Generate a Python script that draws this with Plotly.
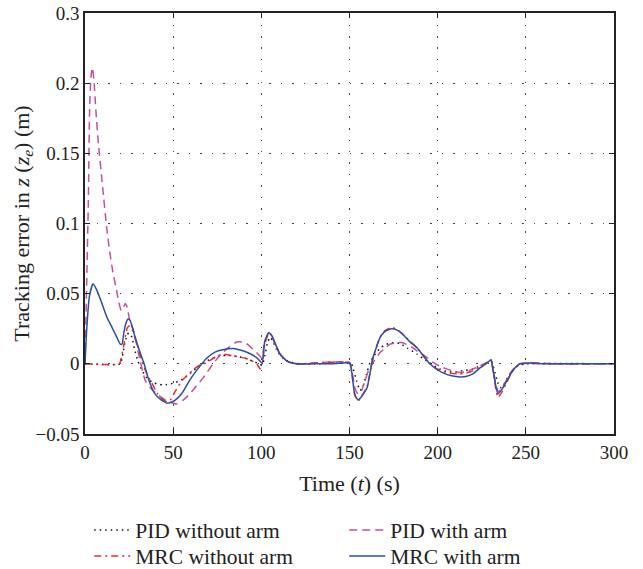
import plotly.graph_objects as go

# ---- data (time s, tracking error m) ----
pid_no_arm = [(0,0),(20,0),(21,0.004),(22.5,0.014),(24,0.021),(25,0.022),(26.6,0.019),(28,0.011),(30,0.002),
    (32.5,-0.005),(35,-0.01),(38,-0.013),(40.8,-0.0143),(44,-0.015),(46.5,-0.0148),(50,-0.0138),(53.9,-0.012),
    (57.5,-0.009),(61.3,-0.005),(65,-0.0015),(69,0.002),(72.5,0.004),(76.6,0.0057),(80,0.006),(84,0.0057),
    (88,0.0048),(91.7,0.0036),(95.5,0.0017),(99,0),(100.5,-0.001),(102,0.006),(103.5,0.015),(105,0.019),
    (106.6,0.016),(108.5,0.0105),(111,0.0055),(115,0.002),(120,0.0003),(130,0),(151,0),(152,-0.003),
    (154,-0.012),(156,-0.019),(157.7,-0.016),(159.5,-0.008),(161.6,0.0007),(164,0.006),(167.3,0.011),
    (170,0.0135),(174,0.015),(178.7,0.0145),(183,0.011),(188.3,0.007),(192,0.0035),(195.6,0.0007),
    (200,-0.003),(205,-0.0055),(210,-0.0058),(214,-0.005),(220,-0.0036),(224,-0.0015),(228,0.0008),
    (230.5,0.002),(232,-0.004),(234,-0.013),(235.5,-0.017),(237.5,-0.015),(240,-0.009),(243,-0.004),
    (246,-0.001),(250,0),(300,0)]

pid_arm = [(0,0),(1,0.06),(1.9,0.116),(2.6,0.18),(3.4,0.205),(4.2,0.211),(5.0,0.203),(6.2,0.18),(7.6,0.157),
    (10,0.126),(12.3,0.097),(14,0.08),(16,0.064),(17.5,0.055),(19,0.045),(20.5,0.038),(21.5,0.039),
    (22.8,0.043),(24,0.040),(25.5,0.030),(27.6,0.0236),(30.4,0.007),(34.2,-0.012),(37,-0.017),
    (40.6,-0.0214),(46.3,-0.0264),(52,-0.0286),(55.5,-0.026),(59.5,-0.0214),(63,-0.016),(67,-0.01),
    (72.6,0),(76.5,0.006),(80.4,0.0107),(86,0.0155),(89,0.0155),(91.7,0.0143),(97.4,0.0079),(100.2,0.0043),
    (101.8,0.015),(104,0.022),(105.5,0.021),(107.5,0.015),(110.5,0.007),(114.5,0.002),(120,0),(150,0.001),
    (151.5,-0.006),(153,-0.017),(154.8,-0.0214),(156.5,-0.02),(158.5,-0.013),(161,-0.004),(164,0.002),
    (167.3,0.008),(170,0.011),(173,0.014),(176.5,0.015),(179.6,0.0152),(183,0.0135),(186,0.0114),
    (189.5,0.008),(192.8,0.0057),(197.4,0.001),(201,-0.0015),(205,-0.0036),(209,-0.0052),(212.6,-0.0062),
    (216,-0.0055),(220,-0.0036),(224,-0.0015),(228,0.001),(230.2,0.0025),(231.5,-0.004),(233,-0.015),
    (234.5,-0.02),(236.5,-0.017),(239.3,-0.011),(241.5,-0.006),(244,-0.002),(247,0.0003),(252,0.001),
    (258,0.0005),(265,0),(300,0)]

mrc_no_arm = [(0,0),(19.5,0),(20.4,0.0036),(22,0.013),(23.8,0.025),(25,0.027),(26.5,0.025),(29,0.016),
    (32.3,0.002),(35,-0.007),(38,-0.014),(41,-0.021),(43.7,-0.025),(46.5,-0.027),(48.5,-0.0255),
    (50.5,-0.021),(55,-0.012),(60.7,-0.005),(65,-0.001),(69,0.0007),(74,0.005),(78,0.007),(84,0.0057),
    (92,0.0036),(97.5,0),(99.3,-0.0036),(100.5,0.0),(102,0.014),(104.3,0.022),(106,0.02),(107.7,0.0145),
    (110.6,0.007),(114.5,0.002),(120,0),(150,0.0008),(151.5,-0.008),(153,-0.022),(154.8,-0.0265),
    (156.5,-0.024),(158,-0.021),(160,-0.016),(163.3,0.004),(167.3,0.019),(170,0.0235),(174,0.026),
    (177,0.0245),(180.3,0.021),(184,0.0165),(188.3,0.0115),(192,0.0055),(195.6,0.0),(199,-0.003),
    (203,-0.0055),(208,-0.0068),(212.6,-0.0072),(216,-0.0065),(220,-0.005),(224,-0.002),(228,0.001),
    (230.2,0.003),(231.5,-0.006),(233,-0.018),(234.2,-0.024),(236.5,-0.02),(239.3,-0.013),(241.5,-0.007),
    (243.8,-0.003),(246.6,0),(250,0.0005),(255,0.0002),(300,0)]

mrc_arm = [(0,0),(1,0.025),(2.5,0.048),(4.5,0.057),(6.5,0.053),(9.6,0.043),(12.5,0.033),(15.3,0.026),
    (18,0.019),(20,0.014),(21,0.014),(22,0.022),(23.2,0.029),(24.4,0.032),(25.6,0.031),(28.4,0.019),
    (31,0.009),(33.5,0),(36.3,-0.012),(39.7,-0.0214),(42.5,-0.025),(44.8,-0.027),(46.5,-0.028),
    (48.5,-0.0275),(51,-0.026),(55,-0.021),(59.5,-0.0114),(65,-0.002),(69,0.004),(74,0.0085),(78,0.010),
    (84,0.011),(89.6,0.0093),(94,0.007),(97.5,0.0043),(100.4,0.0007),(102,0.0164),(104.3,0.0221),
    (106,0.020),(107.7,0.015),(110.6,0.007),(114.5,0.002),(120,0.0),(130,0),(140,0),(150,0.0005),
    (151.5,-0.008),(153,-0.022),(154.8,-0.0257),(156.5,-0.024),(158,-0.021),(160,-0.017),(163.3,0.0043),
    (167.3,0.0186),(170,0.023),(174,0.025),(177,0.024),(180.3,0.021),(184,0.016),(188.3,0.0114),
    (192,0.0055),(195.6,0),(199,-0.0035),(203,-0.0064),(208,-0.0085),(212.6,-0.0093),(216,-0.009),
    (220,-0.0071),(224,-0.0029),(228,0.0005),(230.2,0.0029),(231.5,-0.005),(233,-0.016),(234.2,-0.0214),
    (236.5,-0.018),(239.3,-0.012),(241.5,-0.007),(243.8,-0.0029),(246.6,0.0),(250,0.0005),(255,0.0005),
    (260,0),(270,0),(300,0)]

series_names = ["PID without arm", "PID with arm", "MRC without arm", "MRC with arm"]
x_tick_vals = [0, 50, 100, 150, 200, 250, 300]
y_tick_vals = [-0.05, 0, 0.05, 0.1, 0.15, 0.2, 0.25]
y_tick_text = ["\u22120.05", "0", "0.05", "0.1", "0.15", "0.2", "0.3"]

styles = [
    dict(color="#111111", dash="1.5px,4px", width=1.5),
    dict(color="#c4509e", dash="8px,5px", width=1.5),
    dict(color="#e82d2d", dash="7px,4px,2px,4px", width=1.5),
    dict(color="#2d4ea5", dash="solid", width=1.5),
]
legend_rows = ["legend", "legend", "legend2", "legend2"]

fig = go.Figure()
for name, data, st, lg in zip(series_names, [pid_no_arm, pid_arm, mrc_no_arm, mrc_arm], styles, legend_rows):
    fig.add_trace(go.Scatter(
        x=[p[0] for p in data], y=[p[1] for p in data], name=name, mode="lines", legend=lg,
        line=dict(color=st["color"], dash=st["dash"], width=st["width"], shape="spline", smoothing=0.5),
    ))

fam = "Liberation Serif, Times New Roman, serif"
tick_font = dict(family=fam, size=19, color="#222222")
title_font = dict(family=fam, size=22, color="#222222")
legend_font = dict(family=fam, size=21.5, color="#222222")
legend_common = dict(orientation="h", x=0.008, xanchor="left", xref="paper", yanchor="middle",
                     yref="container", entrywidth=204, entrywidthmode="pixels", font=legend_font,
                     tracegroupgap=0, itemwidth=36, bgcolor="rgba(0,0,0,0)")
fig.update_layout(
    width=643, height=569, autosize=False,
    margin=dict(l=85, r=29, t=13, b=135, autoexpand=False),
    paper_bgcolor="white", plot_bgcolor="white",
    font=tick_font,
    showlegend=True,
    legend=dict(legend_common, y=(569 - 530) / 569),
    legend2=dict(legend_common, y=(569 - 556) / 569),
    xaxis=dict(range=[0, 300], tickvals=x_tick_vals, ticks="inside", ticklen=5, tickcolor="#222",
               showline=True, linecolor="#222", linewidth=1.5, mirror="ticks", automargin=False,
               showgrid=True, gridcolor="#444", gridwidth=1, griddash="1.5px,10px", tickfont=tick_font,
               zeroline=False, title=dict(text="Time (<i>t</i>) (s)", standoff=14, font=title_font)),
    yaxis=dict(range=[-0.05, 0.25], tickvals=y_tick_vals, ticktext=y_tick_text, ticks="inside",
               ticklen=5, tickcolor="#222", showline=True, linecolor="#222", linewidth=1.5, mirror="ticks",
               showgrid=True, gridcolor="#444", gridwidth=1, griddash="1.5px,10px", zeroline=False,
               automargin=False, tickfont=tick_font,
               title=dict(text="Tracking error in <i>z</i> (<i>z<sub>e</sub></i>) (m)", standoff=0,
                          font=title_font)),
)

fig.write_html("out.html", config={"displayModeBar": False},
               post_script="document.body.style.margin='0';document.body.style.overflow='hidden';")
